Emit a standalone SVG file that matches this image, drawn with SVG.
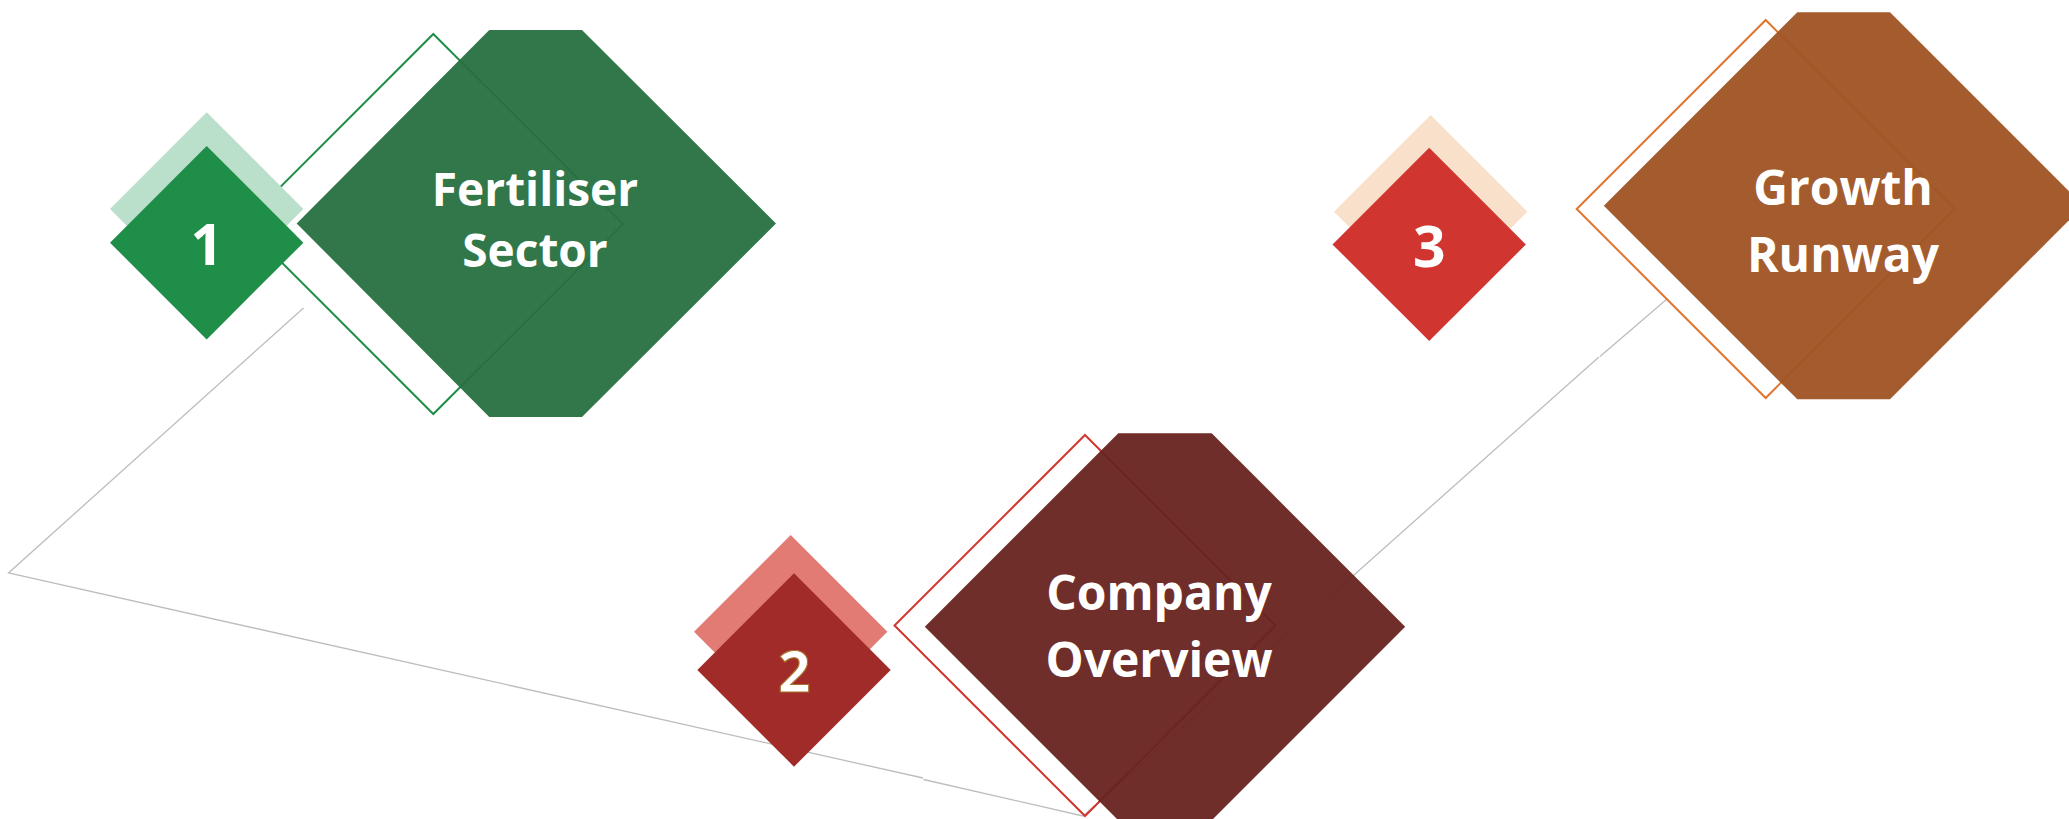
<svg xmlns="http://www.w3.org/2000/svg" width="2069" height="819" viewBox="0 0 2069 819">
<style>
.conn{fill:none;stroke:#BDBDBD;stroke-width:1.3}
.lbl{font-family:"Open Sans","Liberation Sans",sans-serif;font-weight:700;fill:#FFFFFF;text-anchor:middle}
.big{font-size:48px}
.num{font-size:57px}
.ol{fill:none;stroke-width:2}
.hex{fill-opacity:0.95}
</style>
<rect width="2069" height="819" fill="#FFFFFF"/>
<g id="connectors">
<polyline class="conn" points="303.5,308 8.5,573 923,778"/>
<polyline class="conn" points="923.5,779.5 1083,816 1599,357"/>
<line class="conn" x1="1600" y1="356.5" x2="1667" y2="299"/>
</g>
<g id="node-fertiliser">
<polygon class="ol" stroke="#1E8E48" points="433.3,34 623.3,224 433.3,414 243.3,224"/>
<polygon fill="#BADFCA" points="206.7,112.3 303.4,209 206.7,305.7 110,209"/>
<polygon fill="#1E8E48" points="206.7,146 303.4,242.7 206.7,339.4 110,242.7"/>
<text class="lbl num" x="206.7" y="265">1</text>
<polygon class="hex" fill="#267040" points="489.3,30 582,30 776,223.5 582,417 489.3,417 296.7,223.5"/>
<text class="lbl" font-size="46" x="535" y="206">Fertiliser</text>
<text class="lbl" font-size="46" x="535" y="267">Sector</text>
</g>
<g id="node-company">
<polygon class="ol" stroke="#D3362F" points="1085,435 1275.5,625.5 1085,816 894.5,625.5"/>
<polygon fill="#E27B74" points="790.7,535 887.4,631.7 790.7,728.4 694,631.7"/>
<polygon fill="#A02B29" points="794,573.3 890.7,670 794,766.7 697.3,670"/>
<text class="lbl num" x="794.2" y="691.7" stroke="#A8722C" stroke-width="1.2">2</text>
<polygon class="hex" fill="#67231F" points="1118.3,433.3 1211.7,433.3 1405.2,626.8 1211.7,820.3 1118.3,820.3 924.8,626.8"/>
<text class="lbl big" x="1159" y="610">Company</text>
<text class="lbl big" x="1159" y="677">Overview</text>
</g>
<g id="node-growth">
<polygon class="ol" stroke="#E0742C" points="1765.7,20 1954.7,209 1765.7,398 1576.7,209"/>
<polygon fill="#F8E0CB" points="1430.7,115 1527.4,211.7 1430.7,308.4 1334,211.7"/>
<polygon fill="#D13530" points="1429.2,147.7 1525.9,244.4 1429.2,341.1 1332.5,244.4"/>
<text class="lbl num" x="1429.2" y="266.7">3</text>
<polygon class="hex" fill="#9F5323" points="1797.3,12.3 1890,12.3 2083.5,205.8 1890,399.3 1797.3,399.3 1603.8,205.8"/>
<text class="lbl big" x="1843" y="205">Growth</text>
<text class="lbl big" x="1843" y="271.7">Runway</text>
</g>
</svg>
